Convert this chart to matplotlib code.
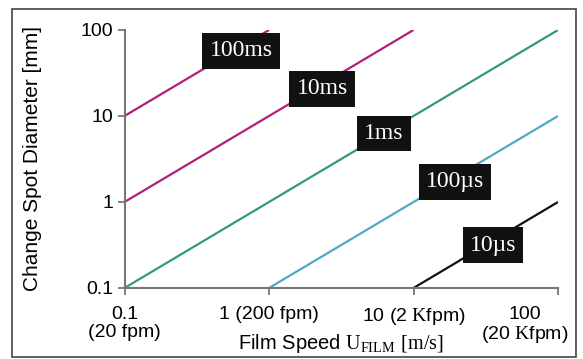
import matplotlib
matplotlib.use("Agg")
import matplotlib.pyplot as plt
import matplotlib.transforms as mtransforms
from matplotlib.patches import Rectangle

plt.rcParams['font.family'] = ['Liberation Sans', 'DejaVu Sans']
plt.rcParams['mathtext.fontset'] = 'custom'
plt.rcParams['mathtext.rm'] = 'Liberation Serif'

# exposure lines: start/end speed [m/s] and spot diameter [mm]
labels = ['100ms', '10ms', '1ms', '100\u00b5s', '10\u00b5s']
x_start = [0.1, 0.1, 0.1, 1, 10]
x_end = [1, 10, 100, 100, 100]
y_start = [10, 1, 0.1, 0.1, 0.1]
y_end = [100, 100, 100, 10, 1]
colors = ['#b01f78', '#b01f78', '#2f9a82', '#4ea9c9', '#111111']
label_x = [0.64, 2.33, 6.25, 19.4, 35.5]
label_y = [57, 20.6, 6.3, 1.71, 0.316]

xticks = [0.1, 1, 10, 100]
xticklabels = ['0.1\n(20 fpm)', '1 (200 fpm)', '10 (2 $\\mathrm{K}$fpm)', '100\n(20 $\\mathrm{K}$fpm)']
yticks = [0.1, 1, 10, 100]
yticklabels = ['0.1', '1', '10', '100']

fig = plt.figure(figsize=(5.83, 3.59), dpi=100)
ax = fig.add_axes([0.2136, 0.1978, 0.7436, 0.7187])

for i in range(len(labels)):
    ax.plot([x_start[i], x_end[i]], [y_start[i], y_end[i]], color=colors[i], lw=1.6,
            solid_capstyle='butt')
    ax.text(label_x[i], label_y[i], labels[i], color='white', fontsize=17,
            family='Liberation Serif', ha='center', va='center',
            bbox=dict(boxstyle='square,pad=0.3', fc='#111111', ec='none'))

ax.set_xscale('log')
ax.set_yscale('log')
ax.set_xlim(0.1, 100)
ax.set_ylim(0.1, 100)
ax.set_xticks(xticks)
ax.set_xticklabels(xticklabels, fontsize=14, linespacing=1.05)
ax.set_yticks(yticks)
ax.set_yticklabels(yticklabels, fontsize=14)
ax.minorticks_off()
ax.tick_params(length=5, width=1.3, color='#777777', pad=3)
ax.tick_params(axis='x', pad=8)

# shift the last x label to the left, as in the original
last = ax.get_xticklabels()[-1]
last.set_transform(last.get_transform() +
                   mtransforms.ScaledTranslation(-0.33, 0, fig.dpi_scale_trans))

for side in ['top', 'right']:
    ax.spines[side].set_visible(False)
for side in ['left', 'bottom']:
    ax.spines[side].set_color('#777777')
    ax.spines[side].set_linewidth(1.5)

ax.set_ylabel('Change Spot Diameter [mm]', fontsize=15)
ax.yaxis.set_label_coords(-0.19, 0.5)
ax.set_xlabel('Film Speed $\\mathrm{U_{FILM}\\ [m/s]}$', fontsize=14.5)
ax.xaxis.set_label_coords(0.5, -0.17)

fig.patches.append(Rectangle((0.021, 0.006), 0.967, 0.968, transform=fig.transFigure,
                             fill=False, ec='#444444', lw=1.2))

fig.savefig('out.png', dpi=100)
